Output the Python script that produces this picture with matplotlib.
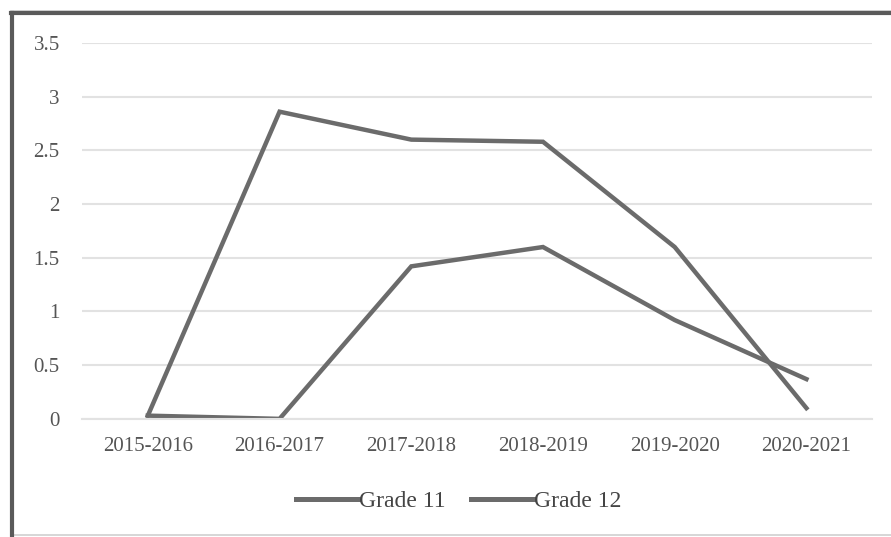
import matplotlib.pyplot as plt
from matplotlib.patches import Rectangle
from matplotlib.lines import Line2D

years = ['2015-2016', '2016-2017', '2017-2018', '2018-2019', '2019-2020', '2020-2021']
grade_11 = [0.03, 2.86, 2.60, 2.58, 1.60, 0.10]
grade_12 = [0.03, 0.00, 1.42, 1.60, 0.92, 0.37]

plt.rcParams['font.family'] = ['Liberation Serif', 'DejaVu Serif']

fig = plt.figure(figsize=(8.91, 5.37), dpi=100)
ax = fig.add_axes([0.092, 0.22, 0.887, 0.70])

line_col = '#6b6b6b'
x = range(len(years))
ax.plot(x, grade_11, color=line_col, lw=3.2, solid_joinstyle='miter', label='Grade 11')
ax.plot(x, grade_12, color=line_col, lw=3.2, solid_joinstyle='miter', label='Grade 12')

ax.set_xlim(-0.5, len(years) - 0.5)
ax.set_ylim(0, 3.5)
ax.set_yticks([0, 0.5, 1, 1.5, 2, 2.5, 3, 3.5])
ax.set_yticklabels(['0', '0.5', '1', '1.5', '2', '2.5', '3', '3.5'])
ax.set_xticks(list(x))
ax.set_xticklabels(years)
ax.grid(axis='y', color='#e2e2e2', lw=1.5)
ax.set_axisbelow(True)
for s in ['top', 'right', 'left']:
    ax.spines[s].set_visible(False)
ax.spines['bottom'].set_color('#e2e2e2')
ax.spines['bottom'].set_linewidth(1.5)
ax.tick_params(axis='both', length=0, colors='#555555', labelsize=15)
ax.tick_params(axis='y', pad=16)
ax.tick_params(axis='x', pad=13)

handles = [Line2D([], [], color=line_col, lw=3.6), Line2D([], [], color=line_col, lw=3.6)]
fig.legend(handles, ['Grade 11', 'Grade 12'], loc='center', bbox_to_anchor=(0.515, 0.066),
           ncol=2, frameon=False, fontsize=17, labelcolor='#444444',
           handlelength=2.6, handletextpad=0.05, columnspacing=1.1)

# outer frame
fig.patches.append(Rectangle((11 / 891, 2 / 537), 0.99, 0.975, transform=fig.transFigure,
                             fill=False, edgecolor='#d0d0d0', lw=1.2))
fig.add_artist(Line2D([12 / 891, 12 / 891], [2 / 537, 1 - 13 / 537], transform=fig.transFigure,
                      color='#5a5a5a', lw=3))
fig.add_artist(Line2D([11 / 891, 1], [1 - 13 / 537, 1 - 13 / 537], transform=fig.transFigure,
                      color='#5a5a5a', lw=3))

fig.savefig('out.png', dpi=100)
